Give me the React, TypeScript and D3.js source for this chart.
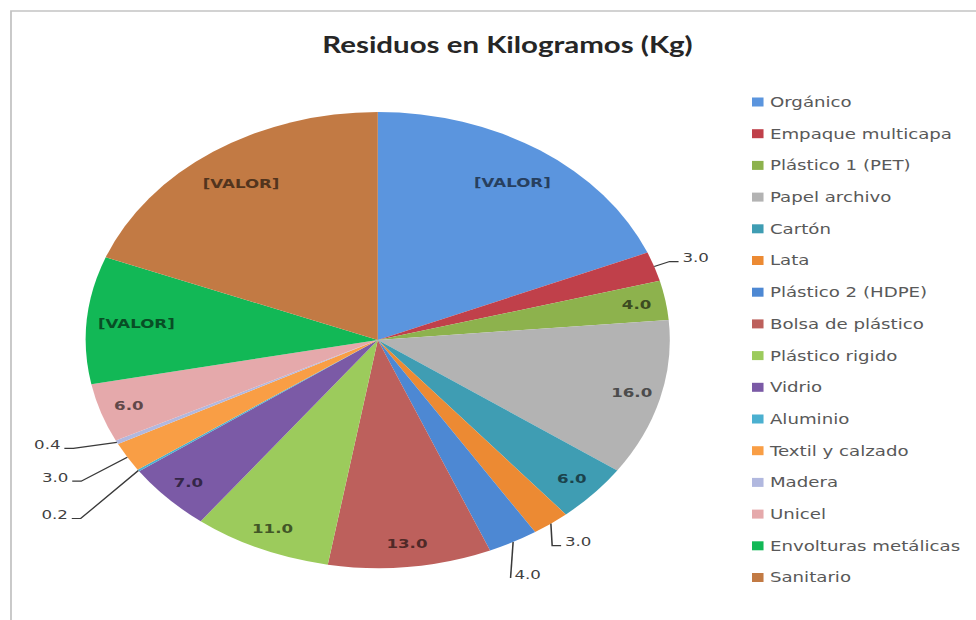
import React from 'react'
import * as d3 from 'd3'

const categories = [
  'Orgánico', 'Empaque multicapa', 'Plástico 1 (PET)', 'Papel archivo', 'Cartón', 'Lata',
  'Plástico 2 (HDPE)', 'Bolsa de plástico', 'Plástico rigido', 'Vidrio', 'Aluminio',
  'Textil y calzado', 'Madera', 'Unicel', 'Envolturas metálicas', 'Sanitario',
]
const values = [27, 3, 4, 16, 6, 3, 4, 13, 11, 7, 0.2, 3, 0.4, 6, 13, 27.5]
const colors = [
  '#5b95de', '#c0404a', '#8db24d', '#b3b3b3', '#3f9db3', '#ec8a33',
  '#4d88d3', '#bd605c', '#9ccb5c', '#7b5aa6', '#4bb0d0',
  '#f99e45', '#b1b8df', '#e5a9ab', '#12b856', '#c27a44',
]
// these slices show the placeholder text instead of the number
const placeholder = ['Orgánico', 'Envolturas metálicas', 'Sanitario']
const title = 'Residuos en Kilogramos (Kg)'

const W = 976
const H = 620
const SX = 1.2807 // the source picture is stretched sideways
const cx = 295
const cy = 340
const R = 228

// labels that sit outside the pie, offsets from the slice edge
const outside: Record<string, { dx: number; dy: number; anchor: string; elbow: number }> = {
  'Empaque multicapa': { dx: 22, dy: -9, anchor: 'start', elbow: 7 },
  'Lata': { dx: 11, dy: 18, anchor: 'start', elbow: 7 },
  'Plástico 2 (HDPE)': { dx: 1, dy: 32, anchor: 'start', elbow: 0 },
  'Aluminio': { dx: -55, dy: 44, anchor: 'end', elbow: 7 },
  'Textil y calzado': { dx: -46, dy: 20, anchor: 'end', elbow: 7 },
  'Madera': { dx: -44, dy: 2, anchor: 'end', elbow: 7 },
}

export default function App() {
  const pie = d3.pie<number>().sort(null).value((d) => d)
  const arcs = pie(values)
  const arc = d3.arc<d3.PieArcDatum<number>>().innerRadius(0).outerRadius(R)
  const pt = (a: number, r: number) => [cx + r * Math.sin(a), cy - r * Math.cos(a)]

  const legendY = d3.scaleLinear().domain([0, categories.length - 1]).range([102, 577.5])

  return (
    <svg width={W} height={H} style={{ position: 'absolute', left: 0, top: 0, background: '#fff' }}>
      <g transform={`scale(${SX},1)`}>
        {/* chart area border */}
        <path d={`M${11 / SX},${H} V11 H${W / SX}`} fill='none' stroke='#c4c4c4' strokeWidth={1.4} />
        <text x={507.5 / SX} y={53} textAnchor='middle' fontFamily='Lato, sans-serif' fontWeight='bold'
          fontSize={23} fill='#262626'>{title}</text>

        <g transform={`translate(${cx},${cy})`}>
          {arcs.map((d, i) => (
            <path key={i} d={arc(d) || ''} fill={colors[i]} />
          ))}
        </g>

        {arcs.map((d, i) => {
          const name = categories[i]
          const mid = (d.startAngle + d.endAngle) / 2
          const label = placeholder.includes(name) ? '[VALOR]' : values[i].toFixed(1)
          const o = outside[name]
          if (o) {
            const [ex, ey] = pt(mid, R)
            const tx = ex + o.dx
            const ty = ey + o.dy
            const dir = o.anchor === 'start' ? -1 : 1
            const ax = tx + dir * 3
            const ay = ty + 4
            const line = d3.line()([[ex, ey], [ax + dir * o.elbow, ay], [ax, ay]])
            return (
              <g key={i}>
                <path d={line || ''} fill='none' stroke='#3a3a3a' strokeWidth={1.2} />
                <text x={tx} y={ty} dy='0.35em' textAnchor={o.anchor} fontFamily='DejaVu Sans, sans-serif'
                  fontSize={13} fill='#404040'>{label}</text>
              </g>
            )
          }
          const f = label === '[VALOR]' ? 0.83 : 0.9
          const [lx, ly] = pt(mid, R * f)
          const c = d3.color(colors[i])!.darker(2.4).formatHex()
          return (
            <text key={i} x={lx} y={ly} dy='0.35em' textAnchor='middle' fontFamily='DejaVu Sans, sans-serif'
              fontWeight='bold' fontSize={13} fill={c}>{label}</text>
          )
        })}

        {categories.map((name, i) => (
          <g key={name} transform={`translate(${752 / SX},${legendY(i)})`}>
            <rect x={0} y={-4.5} width={9} height={9} fill={colors[i]} />
            <text x={14} y={0} dy='0.35em' fontFamily='DejaVu Sans, sans-serif' fontSize={14.2}
              fill='#595959'>{name}</text>
          </g>
        ))}
      </g>
    </svg>
  )
}
